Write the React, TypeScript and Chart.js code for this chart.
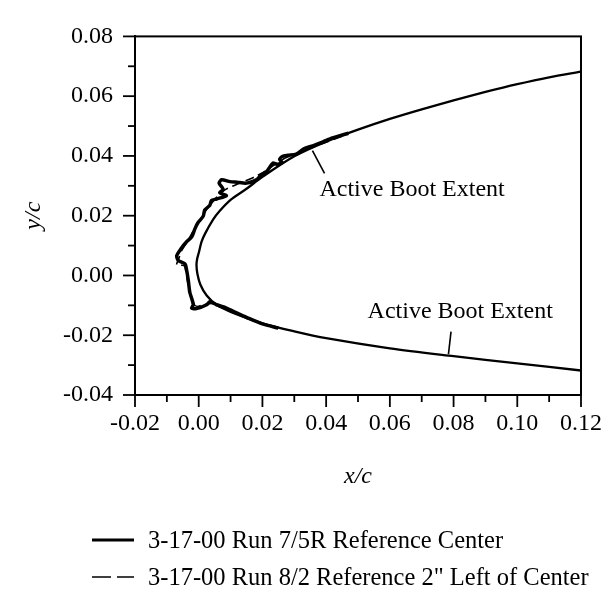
import React, { useEffect, useRef } from "react";
import { Chart, registerables } from "chart.js";

Chart.register(...registerables);

// ---- axis ticks ----
const xMajorTicks = [-0.02, 0.0, 0.02, 0.04, 0.06, 0.08, 0.1, 0.12];
const xMinorTicks = [-0.01, 0.01, 0.03, 0.05, 0.07, 0.09, 0.11];
const yMajorTicks = [-0.04, -0.02, 0.0, 0.02, 0.04, 0.06, 0.08];
const yMinorTicks = [-0.03, -0.01, 0.01, 0.03, 0.05, 0.07];

// ---- clean airfoil (upper TE -> LE -> lower TE) ----
const airfoilX = [0.12, 0.11, 0.1, 0.09, 0.08, 0.07, 0.06, 0.05, 0.04, 0.03, 0.02, 0.015, 0.01, 0.0065, 0.0045, 0.002, 0.0009, 0.0, -0.0005, -0.0007, -0.0004, 0.0005, 0.0025, 0.0056, 0.0108, 0.02, 0.03, 0.04, 0.06, 0.08, 0.1, 0.12];
const airfoilY = [0.0682, 0.0663, 0.064, 0.0614, 0.0586, 0.0556, 0.0524, 0.0488, 0.0448, 0.0399, 0.033, 0.029, 0.0253, 0.0215, 0.0187, 0.014, 0.0113, 0.0075, 0.0055, 0.0035, 0.0005, -0.003, -0.0067, -0.0098, -0.0125, -0.016, -0.0187, -0.021, -0.0244, -0.027, -0.0294, -0.0318];

// ---- ice shape: 3-17-00 Run 7/5R Reference Center ----
const iceCenterX = [0.047, 0.042, 0.039, 0.0358, 0.033, 0.0306, 0.028, 0.0262, 0.0254, 0.0262, 0.0245, 0.0233, 0.0223, 0.0212, 0.0195, 0.0181, 0.015, 0.012, 0.0098, 0.0072, 0.0064, 0.0077, 0.0066, 0.0087, 0.0056, 0.004, 0.0035, 0.0019, 0.0014, -0.0002, -0.0012, -0.0022, -0.0038, -0.0054, -0.0069, -0.0064, -0.0043, -0.0038, -0.0033, -0.0028, -0.0022, -0.0017, -0.0022, -0.0007, 0.0025, 0.0035, 0.0056, 0.0087, 0.0119, 0.015, 0.02, 0.025];
const iceCenterY = [0.0476, 0.046, 0.0447, 0.0434, 0.0424, 0.0406, 0.0402, 0.0398, 0.0388, 0.0378, 0.0372, 0.0376, 0.0362, 0.0346, 0.0335, 0.032, 0.0309, 0.0312, 0.0314, 0.032, 0.0309, 0.0288, 0.0277, 0.0267, 0.0256, 0.0251, 0.0235, 0.0219, 0.0198, 0.0177, 0.0156, 0.0129, 0.0113, 0.0092, 0.0066, 0.005, 0.0039, 0.0018, -0.0014, -0.0056, -0.0077, -0.0098, -0.0109, -0.0111, -0.0098, -0.0088, -0.0098, -0.0109, -0.0125, -0.014, -0.0162, -0.0176];

// ---- ice shape: 3-17-00 Run 8/2 Reference 2" Left of Center ----
const iceLeftX = [0.045, 0.04, 0.036, 0.031, 0.027, 0.024, 0.021, 0.018, 0.015, 0.012, 0.01, 0.008, 0.0062, 0.0045, 0.003, 0.0015, 0.0, -0.0014, -0.0028, -0.0042, -0.0055, -0.0062, -0.0069, -0.0046, -0.004, -0.0036, -0.003, -0.0024, -0.0016, -0.0005, 0.002, 0.0045, 0.0075, 0.011, 0.015, 0.02];
const iceLeftY = [0.0466, 0.0446, 0.043, 0.0408, 0.0392, 0.0372, 0.035, 0.0332, 0.0318, 0.0305, 0.0296, 0.0285, 0.0268, 0.0248, 0.0228, 0.0205, 0.018, 0.0155, 0.0128, 0.0103, 0.008, 0.0058, 0.0035, 0.0033, 0.0012, -0.0015, -0.005, -0.0075, -0.0095, -0.0104, -0.0096, -0.0094, -0.0106, -0.0122, -0.014, -0.016];

// ---- annotations (text anchor and leader line, in data units) ----
const annotationTexts = ["Active Boot Extent", "Active Boot Extent"];
const annotationTextX = [0.0379, 0.053];
const annotationTextY = [0.0286, -0.012];
const leaderStartX = [0.0357, 0.0792];
const leaderStartY = [0.0418, -0.0188];
const leaderEndX = [0.0395, 0.0784];
const leaderEndY = [0.0342, -0.0263];

const legendLabels = ["3-17-00 Run 7/5R Reference Center", "3-17-00 Run 8/2 Reference 2\" Left of Center"];
const xTitle = "x/c";
const yTitle = "y/c";

const FONT = '"Liberation Serif", "Times New Roman", serif';

const toPoints = (xs: number[], ys: number[]) => xs.map((x, i) => ({ x, y: ys[i] }));

const overlayPlugin = {
  id: "overlay",
  afterDraw(chart: any) {
    const { ctx, chartArea: a, scales } = chart;
    const xs = scales.x;
    const ys = scales.y;
    ctx.save();
    ctx.strokeStyle = "#000";
    ctx.lineWidth = 2;
    ctx.strokeRect(a.left, a.top, a.right - a.left, a.bottom - a.top);

    ctx.lineWidth = 1.8;
    const drawX = (v: number, len: number) => {
      const p = xs.getPixelForValue(v);
      ctx.beginPath();
      ctx.moveTo(p, a.bottom);
      ctx.lineTo(p, a.bottom + len);
      ctx.stroke();
    };
    const drawY = (v: number, len: number) => {
      const p = ys.getPixelForValue(v);
      ctx.beginPath();
      ctx.moveTo(a.left, p);
      ctx.lineTo(a.left - len, p);
      ctx.stroke();
    };
    xMajorTicks.forEach((v) => drawX(v, 12));
    xMinorTicks.forEach((v) => drawX(v, 7));
    yMajorTicks.forEach((v) => drawY(v, 12));
    yMinorTicks.forEach((v) => drawY(v, 7));

    // annotations
    ctx.lineWidth = 1.6;
    ctx.fillStyle = "#000";
    ctx.font = `24px ${FONT}`;
    ctx.textBaseline = "middle";
    ctx.textAlign = "left";
    annotationTexts.forEach((t, i) => {
      ctx.beginPath();
      ctx.moveTo(xs.getPixelForValue(leaderStartX[i]), ys.getPixelForValue(leaderStartY[i]));
      ctx.lineTo(xs.getPixelForValue(leaderEndX[i]), ys.getPixelForValue(leaderEndY[i]));
      ctx.stroke();
      ctx.fillText(t, xs.getPixelForValue(annotationTextX[i]), ys.getPixelForValue(annotationTextY[i]));
    });

    // axis titles
    ctx.font = `italic 24px ${FONT}`;
    ctx.textAlign = "center";
    ctx.fillText(xTitle, (a.left + a.right) / 2, 477);
    ctx.translate(34, (a.top + a.bottom) / 2);
    ctx.rotate(-Math.PI / 2);
    ctx.fillText(yTitle, 0, 0);
    ctx.restore();
  },
};

export default function App() {
  const canvasRef = useRef<HTMLCanvasElement | null>(null);

  useEffect(() => {
    if (!canvasRef.current) return;
    const chart = new Chart(canvasRef.current, {
      type: "scatter",
      data: {
        datasets: [
          {
            label: "Clean",
            data: toPoints(airfoilX, airfoilY),
            showLine: true,
            borderColor: "#000",
            borderWidth: 2.3,
            pointRadius: 0,
            tension: 0.3,
          },
          {
            label: legendLabels[0],
            data: toPoints(iceCenterX, iceCenterY),
            showLine: true,
            borderColor: "#000",
            borderWidth: 3.5,
            pointRadius: 0,
            tension: 0.25,
          },
          {
            label: legendLabels[1],
            data: toPoints(iceLeftX, iceLeftY),
            showLine: true,
            borderColor: "#000",
            borderWidth: 1.6,
            borderDash: [9, 5],
            pointRadius: 0,
            tension: 0.25,
          },
        ],
      },
      options: {
        animation: false,
        responsive: false,
        layout: { padding: { top: 17, right: 34, left: 0, bottom: 0 } },
        plugins: { legend: { display: false }, tooltip: { enabled: false } },
        scales: {
          x: {
            type: "linear",
            min: -0.02,
            max: 0.12,
            afterBuildTicks: (s: any) => {
              s.ticks = xMajorTicks.map((v) => ({ value: v }));
            },
            afterFit: (s: any) => {
              s.height = 199;
            },
            grid: { display: false, drawTicks: false },
            border: { display: true, color: "#000", width: 2 },
            ticks: {
              padding: 14,
              color: "#000",
              font: { family: FONT, size: 24 },
              maxRotation: 0,
              autoSkip: false,
              callback: (v: any) => Number(v).toFixed(2),
            },
          },
          y: {
            type: "linear",
            min: -0.04,
            max: 0.08,
            afterBuildTicks: (s: any) => {
              s.ticks = yMajorTicks.map((v) => ({ value: v }));
            },
            afterFit: (s: any) => {
              s.width = 135;
            },
            grid: { display: false, drawTicks: false },
            border: { display: true, color: "#000", width: 2 },
            ticks: {
              padding: 22,
              color: "#000",
              font: { family: FONT, size: 24 },
              autoSkip: false,
              callback: (v: any) => Number(v).toFixed(2),
            },
          },
        },
      },
      plugins: [overlayPlugin],
    } as any);
    return () => chart.destroy();
  }, []);

  const legendRow = (label: string, dashed: boolean, top: number) => (
    <div
      key={label}
      style={{
        position: "absolute",
        left: 90,
        top,
        height: 30,
        display: "flex",
        alignItems: "center",
        whiteSpace: "nowrap",
      }}
    >
      <svg width={46} height={10} style={{ display: "block" }}>
        <line
          x1={2}
          y1={5}
          x2={44}
          y2={5}
          stroke="#000"
          strokeWidth={dashed ? 1.6 : 3}
          strokeDasharray={dashed ? "19 6" : undefined}
        />
      </svg>
      <span style={{ marginLeft: 12, fontFamily: FONT, fontSize: 24.5, color: "#000", lineHeight: "30px" }}>{label}</span>
    </div>
  );

  return (
    <div style={{ position: "fixed", left: 0, top: 0, width: 616, height: 594, background: "#fff" }}>
      <canvas ref={canvasRef} width={616} height={594} style={{ display: "block" }} />
      {legendRow(legendLabels[0], false, 525)}
      {legendRow(legendLabels[1], true, 562)}
    </div>
  );
}
